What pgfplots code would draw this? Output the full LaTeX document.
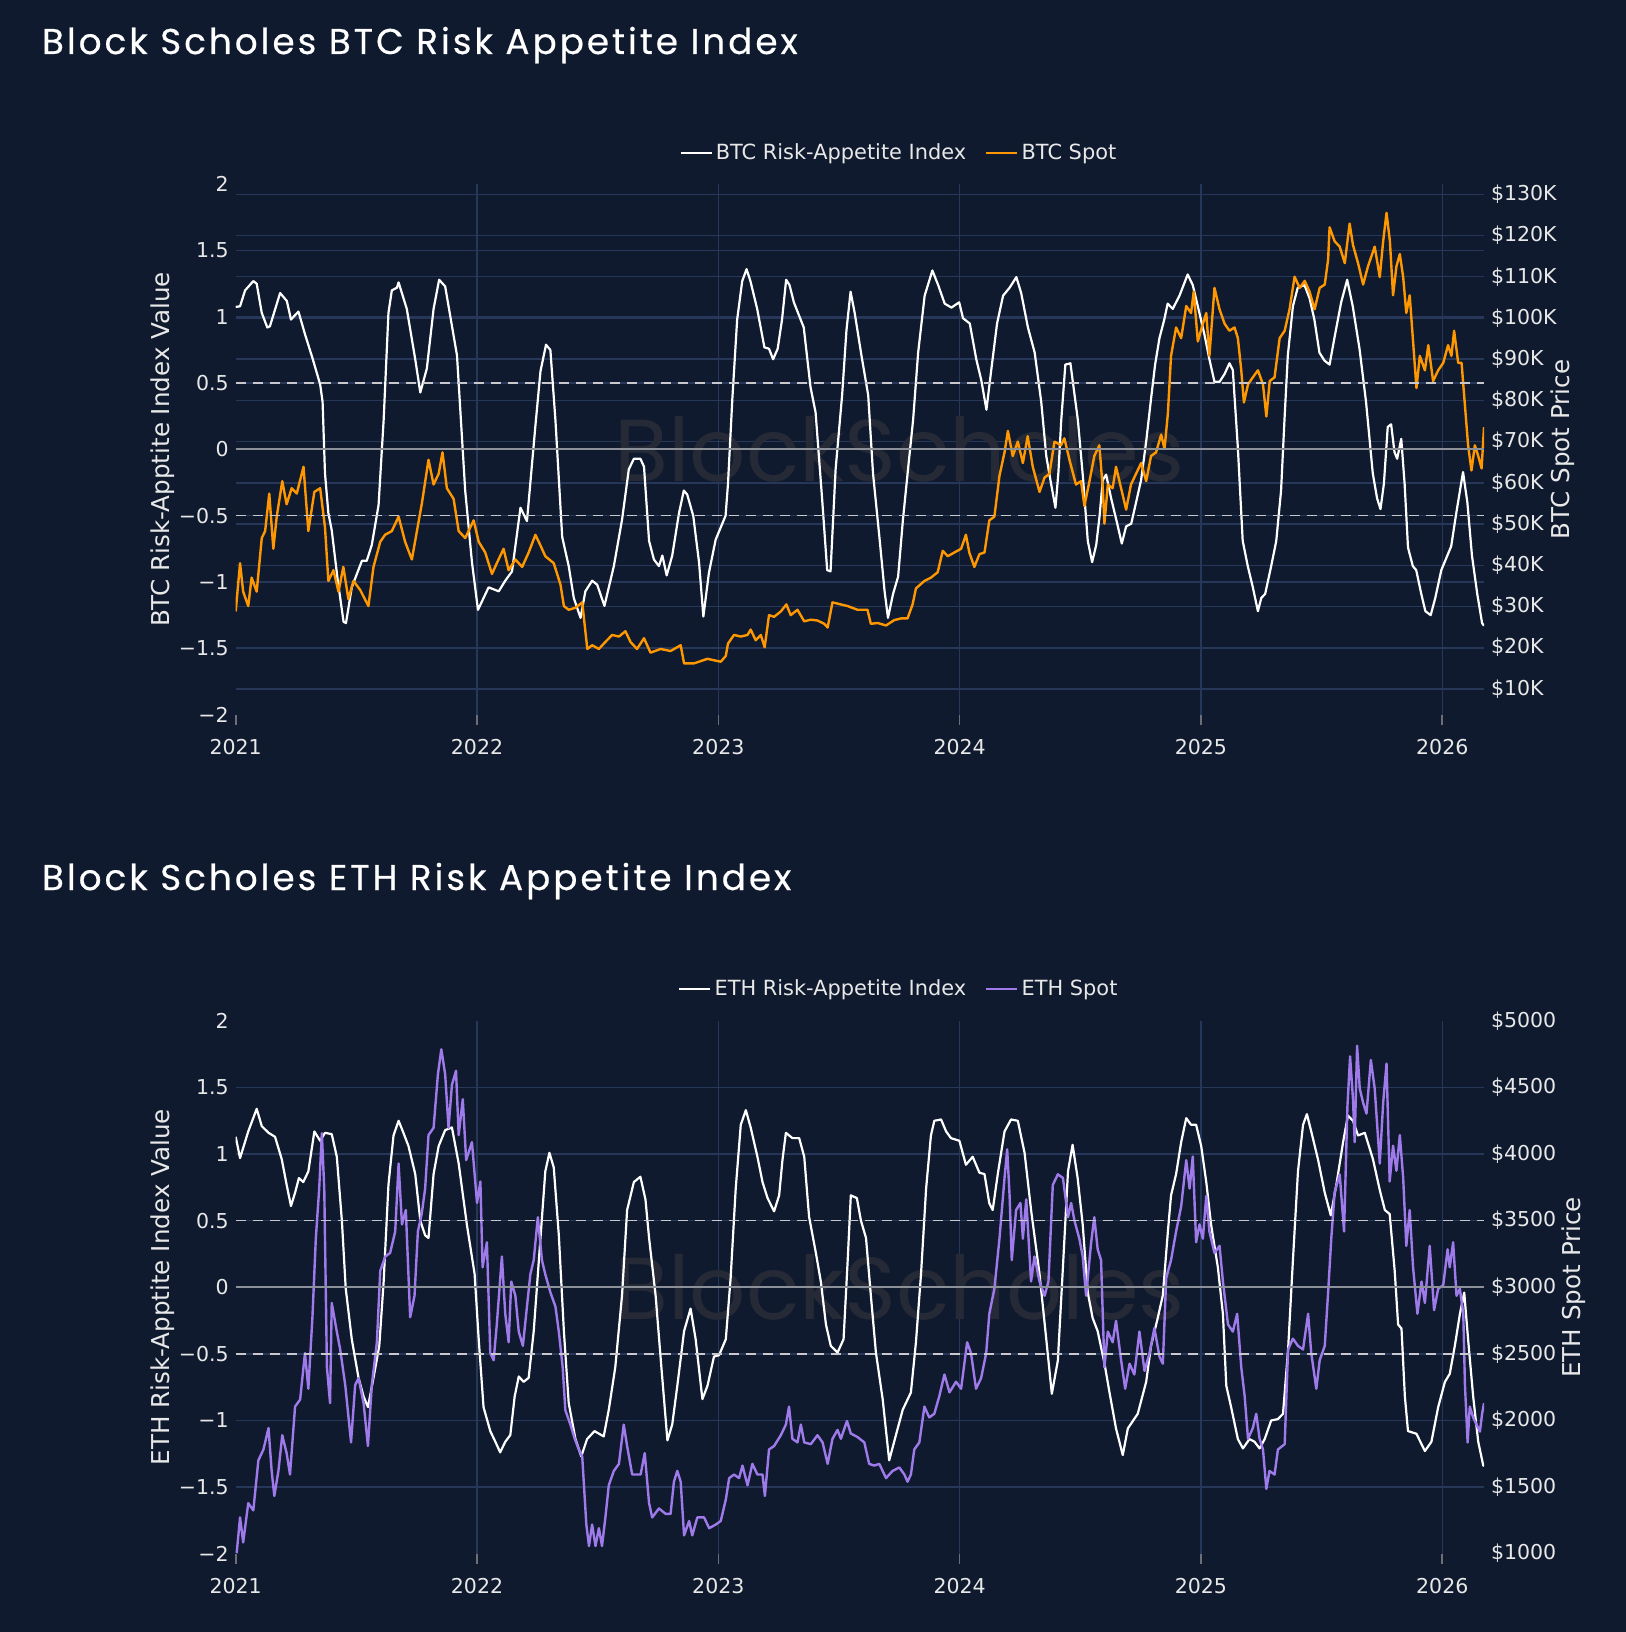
\documentclass[border=0pt]{standalone}
\usepackage{pgfplots}
\pgfplotsset{compat=1.18}
\usepackage{fontspec}
\setmainfont{DejaVu Sans}
\newfontfamily\poppins{Poppins}
\newfontfamily\titlefam[LetterSpace=8.3,FakeBold=0.4]{Poppins}
\definecolor{bgc}{RGB}{15,26,46}
\definecolor{gridc}{RGB}{38,55,90}
\definecolor{txt}{RGB}{232,232,232}
\definecolor{zeroc}{RGB}{140,144,152}
\definecolor{dashc}{RGB}{200,200,205}
\definecolor{tickc}{RGB}{110,110,120}
\definecolor{btcor}{RGB}{255,152,0}
\definecolor{ethpu}{RGB}{159,122,234}
\definecolor{wmc}{RGB}{38,42,54}
\newcommand\tickfont{\fontsize{10.25}{12}\selectfont}
\newcommand\labfont{\fontsize{12.3}{14}\selectfont}
\newcommand\legfont{\fontsize{10.45}{12}\selectfont}
\newcommand\titfont{\fontsize{17.9}{20}\titlefam}

\pgfplotsset{
  base/.style={
    scale only axis, width=624.15pt,
    xmin=2021, xmax=2026.173,
    axis line style={draw=none},
    tick label style={font=\tickfont, text=txt},
    /pgf/number format/assume math mode=true,
    ytick style={draw=none},
  },
  leftax/.style={
    base,
    ymin=-2, ymax=2,
    ytick={-2,-1.5,-1,-0.5,0,0.5,1,1.5,2},
    yticklabels={−2,−1.5,−1,−0.5,0,0.5,1,1.5,2},
    xtick={2021,2022,2023,2024,2025,2026},
    xticklabels={2021,2022,2023,2024,2025,2026},
    xtick pos=lower,
    xtick align=outside,
    major tick length=5pt,
    xtick style={draw=tickc, line width=0.8pt},
    xticklabel style={anchor=base, yshift=-15pt},
    extra x ticks={2022,2023,2024,2025,2026},
    extra x tick labels={},
    extra x tick style={xmajorgrids=true, xtick style={draw=none}},
    grid style={draw=gridc, line width=0.7pt},
    extra y tick labels={},
    extra y tick style={ymajorgrids=true},
    ylabel style={font=\labfont, text=txt, at={(axis description cs:-0.0586,0.5)}, anchor=center},
  },
  rightax/.style={
    base,
    axis x line=none, axis y line*=right,
    legend style={draw=none, fill=none, text=txt, font=\legfont, legend columns=2,
      inner sep=0pt, /tikz/every even column/.append style={column sep=8pt},
      nodes={inner sep=1.5pt}},
    legend image code/.code={\draw[#1] (0pt,0pt) -- (15.5pt,0pt);},
  },
}

\begin{document}
\begin{tikzpicture}[x=1pt,y=1pt]
\useasboundingbox (0,0) rectangle (813,-816);
\fill[bgc] (0,0) rectangle (813,-816);

\node[anchor=base west, text=white, font=\titfont, inner sep=0pt] at (20.8,-27) {Block Scholes BTC Risk Appetite Index};
\node[anchor=base west, text=white, font=\titfont, inner sep=0pt] at (20.8,-445) {Block Scholes ETH Risk Appetite Index};

% ---------------- BTC ----------------
\begin{axis}[leftax, at={(117.85pt,-357.3pt)}, anchor=south west, height=265.15pt,
  extra y ticks={-1.806,-1.5,-1.495,-1.1845,-1,-0.8736,-0.5627,-0.5,-0.2518,0,0.0591,0.37,0.5,0.6809,0.9918,1,1.3027,1.5,1.6136,1.9245},
  ylabel={BTC Risk-Apptite Index Value}]
\node[font=\fontsize{44}{48}\poppins, text=wmc] at (rel axis cs:0.5317,0.5) {BlockScholes};
\addplot[white, line width=1.1pt, line join=round] coordinates {
(2021.000,1.075)(2021.018,1.08)(2021.039,1.20)(2021.073,1.27)(2021.087,1.25)(2021.108,1.03)(2021.131,0.92)(2021.142,0.93)(2021.184,1.18)(2021.212,1.12)(2021.229,0.98)(2021.260,1.04)(2021.287,0.87)(2021.318,0.69)(2021.350,0.49)(2021.360,0.36)(2021.370,-0.18)(2021.384,-0.48)(2021.398,-0.61)(2021.423,-0.99)(2021.447,-1.30)(2021.457,-1.31)(2021.481,-1.04)(2021.523,-0.84)(2021.543,-0.84)(2021.564,-0.72)(2021.592,-0.42)(2021.613,0.22)(2021.633,1.03)(2021.647,1.20)(2021.668,1.22)(2021.675,1.26)(2021.709,1.06)(2021.744,0.68)(2021.765,0.43)(2021.792,0.61)(2021.820,1.06)(2021.843,1.28)(2021.868,1.23)(2021.917,0.71)(2021.951,-0.31)(2021.979,-0.85)(2022.004,-1.21)(2022.048,-1.04)(2022.090,-1.07)(2022.117,-0.99)(2022.145,-0.92)(2022.180,-0.44)(2022.207,-0.54)(2022.242,0.18)(2022.263,0.59)(2022.286,0.79)(2022.304,0.75)(2022.325,0.22)(2022.353,-0.66)(2022.380,-0.88)(2022.401,-1.12)(2022.429,-1.27)(2022.449,-1.07)(2022.477,-0.99)(2022.498,-1.02)(2022.528,-1.18)(2022.567,-0.88)(2022.601,-0.53)(2022.629,-0.15)(2022.650,-0.07)(2022.677,-0.07)
(2022.692,-0.13)(2022.713,-0.69)(2022.733,-0.83)(2022.754,-0.88)(2022.768,-0.80)(2022.786,-0.95)(2022.809,-0.80)(2022.837,-0.48)(2022.857,-0.31)(2022.871,-0.34)(2022.896,-0.50)(2022.920,-0.85)(2022.938,-1.26)(2022.961,-0.93)(2022.989,-0.68)(2023.030,-0.50)(2023.040,-0.26)(2023.058,0.38)(2023.078,0.98)(2023.099,1.27)(2023.117,1.36)(2023.133,1.27)(2023.161,1.06)(2023.191,0.77)(2023.210,0.76)(2023.227,0.68)(2023.246,0.76)(2023.264,0.98)(2023.281,1.28)(2023.295,1.24)(2023.313,1.11)(2023.354,0.92)(2023.382,0.47)(2023.403,0.28)(2023.430,-0.37)(2023.451,-0.91)(2023.465,-0.92)(2023.486,-0.15)(2023.513,0.41)(2023.531,0.90)(2023.548,1.19)(2023.565,1.03)(2023.593,0.71)(2023.621,0.41)(2023.641,-0.18)(2023.669,-0.69)(2023.689,-1.07)(2023.703,-1.27)(2023.724,-1.09)(2023.745,-0.96)(2023.765,-0.53)(2023.786,-0.15)(2023.807,0.22)(2023.828,0.73)(2023.855,1.16)(2023.887,1.35)(2023.911,1.24)(2023.938,1.10)(2023.966,1.07)(2023.998,1.11)(2024.014,0.99)(2024.042,0.95)(2024.069,0.68)(2024.090,0.52)(2024.111,0.30)(2024.131,0.60)(2024.155,0.95)(2024.180,1.16)(2024.207,1.22)(2024.235,1.30)(2024.255,1.18)(2024.283,0.92)(2024.311,0.73)(2024.338,0.36)(2024.359,-0.05)(2024.379,-0.26)(2024.397,-0.44)(2024.409,-0.18)(2024.421,0.22)(2024.438,0.64)(2024.459,0.65)(2024.490,0.22)(2024.511,-0.21)(2024.531,-0.69)(2024.549,-0.85)(2024.566,-0.72)(2024.580,-0.50)(2024.593,-0.23)(2024.607,-0.19)(2024.628,-0.37)(2024.653,-0.56)(2024.672,-0.71)(2024.690,-0.58)(2024.711,-0.56)(2024.731,-0.40)(2024.752,-0.23)(2024.773,0.06)(2024.793,0.38)(2024.810,0.64)(2024.828,0.84)(2024.848,0.98)(2024.862,1.10)(2024.883,1.06)(2024.911,1.16)(2024.945,1.32)(2024.966,1.24)(2024.987,1.08)(2025.014,0.87)(2025.035,0.68)(2025.056,0.51)(2025.077,0.51)(2025.098,0.57)(2025.118,0.65)(2025.132,0.60)(2025.153,0.01)(2025.173,-0.69)(2025.194,-0.88)(2025.215,-1.04)(2025.236,-1.22)(2025.250,-1.12)(2025.266,-1.09)(2025.291,-0.88)(2025.312,-0.69)(2025.332,-0.31)(2025.346,0.22)(2025.360,0.71)(2025.381,1.08)(2025.401,1.22)(2025.429,1.24)(2025.450,1.14)(2025.470,0.98)(2025.491,0.73)(2025.512,0.67)(2025.533,0.64)(2025.553,0.84)(2025.581,1.11)(2025.606,1.28)(2025.629,1.08)(2025.657,0.76)(2025.684,0.36)(2025.712,-0.18)(2025.730,-0.37)(2025.744,-0.45)(2025.758,-0.26)(2025.774,0.17)(2025.788,0.19)(2025.802,-0.02)(2025.813,-0.07)(2025.830,0.08)(2025.844,-0.26)(2025.858,-0.74)(2025.878,-0.88)(2025.892,-0.91)(2025.913,-1.09)(2025.930,-1.22)(2025.952,-1.25)(2025.971,-1.12)(2025.996,-0.91)(2026.037,-0.73)(2026.058,-0.48)(2026.086,-0.17)(2026.104,-0.40)(2026.123,-0.80)(2026.145,-1.09)(2026.165,-1.31)(2026.173,-1.33)
};
\end{axis}

\begin{axis}[rightax, at={(117.85pt,-357.3pt)}, anchor=south west, height=265.15pt,
  ymin=3.77, ymax=132.43,
  ytick={10,20,30,40,50,60,70,80,90,100,110,120,130},
  yticklabels={\$10K,\$20K,\$30K,\$40K,\$50K,\$60K,\$70K,\$80K,\$90K,\$100K,\$110K,\$120K,\$130K},
  ylabel={BTC Spot Price},
  ylabel style={font=\labfont, text=txt, at={(axis description cs:1.0629,0.5)}, anchor=center},
  legend style={at={(axis description cs:0.5317,1.059)}, anchor=center}]
\addlegendimage{white, line width=1.1pt}
\addlegendentry{BTC Risk-Appetite Index}
\addplot[btcor, line width=1.2pt, line join=round] coordinates {
(2021.000,28.8)(2021.018,40.5)(2021.031,33.6)(2021.052,30.1)(2021.066,37.0)(2021.087,33.6)(2021.108,46.6)(2021.122,48.3)(2021.139,57.4)(2021.156,44.0)(2021.170,51.8)(2021.193,60.4)(2021.211,54.8)(2021.232,58.7)(2021.253,57.4)(2021.281,63.9)(2021.301,48.3)(2021.326,57.8)(2021.350,58.7)(2021.370,49.2)(2021.384,36.2)(2021.405,38.8)(2021.426,33.6)(2021.446,39.6)(2021.467,31.8)(2021.488,36.2)(2021.516,34.0)(2021.550,30.1)(2021.571,39.6)(2021.599,45.7)(2021.619,47.4)(2021.647,48.3)(2021.675,51.8)(2021.702,45.7)(2021.730,41.4)(2021.751,48.3)(2021.772,55.2)(2021.799,65.6)(2021.820,59.6)(2021.841,62.2)(2021.857,67.4)(2021.875,58.7)(2021.903,56.1)(2021.924,48.3)(2021.951,46.6)(2021.986,50.9)(2022.007,45.7)(2022.034,43.1)(2022.062,37.9)(2022.082,40.5)(2022.110,44.0)(2022.131,38.8)(2022.159,41.4)(2022.187,39.6)(2022.214,43.1)(2022.242,47.4)(2022.263,44.8)(2022.283,42.2)(2022.318,40.5)(2022.346,35.3)(2022.360,30.1)(2022.380,29.2)(2022.408,29.7)(2022.436,31.0)(2022.457,19.7)(2022.477,20.6)(2022.505,19.7)(2022.532,21.4)(2022.560,23.1)(2022.588,22.7)(2022.615,24.0)(2022.636,21.4)(2022.663,19.7)(2022.692,22.3)(2022.719,18.8)(2022.761,19.7)(2022.802,19.2)(2022.844,20.6)(2022.858,16.2)(2022.899,16.2)(2022.955,17.3)(2023.010,16.6)(2023.031,18.0)(2023.040,21.0)(2023.065,23.1)(2023.093,22.7)(2023.121,23.1)(2023.134,24.4)(2023.155,21.8)(2023.176,23.1)(2023.192,20.1)(2023.210,27.9)(2023.231,27.5)(2023.259,28.8)(2023.282,30.5)(2023.300,27.9)(2023.328,29.2)(2023.356,26.4)(2023.383,26.8)(2023.411,26.6)(2023.439,25.8)(2023.453,24.9)(2023.473,31.0)(2023.508,30.5)(2023.536,30.1)(2023.577,29.2)(2023.618,29.2)(2023.632,25.8)(2023.660,26.0)(2023.695,25.4)(2023.729,26.7)(2023.757,27.1)(2023.784,27.1)(2023.805,30.5)(2023.819,34.4)(2023.854,36.2)(2023.881,37.0)(2023.909,38.3)(2023.930,43.5)(2023.951,42.2)(2023.978,43.1)(2024.006,44.0)(2024.026,47.4)(2024.040,43.1)(2024.061,39.6)(2024.082,42.7)(2024.103,43.1)(2024.123,50.9)(2024.144,51.8)(2024.165,61.7)(2024.186,67.4)(2024.200,72.6)(2024.220,66.5)(2024.241,70.0)(2024.262,64.8)(2024.282,71.3)(2024.303,63.9)(2024.331,57.8)(2024.352,61.3)(2024.372,62.2)(2024.393,70.0)(2024.420,69.1)(2024.434,70.8)(2024.455,65.6)(2024.482,59.6)(2024.503,60.4)(2024.517,54.4)(2024.538,60.4)(2024.558,66.5)(2024.579,69.1)(2024.593,58.7)(2024.600,50.1)(2024.614,59.6)(2024.634,58.7)(2024.648,63.9)(2024.669,58.7)(2024.690,53.5)(2024.710,59.6)(2024.731,62.2)(2024.752,64.8)(2024.773,60.4)(2024.793,66.5)(2024.814,67.4)(2024.835,71.7)(2024.849,68.2)(2024.863,76.9)(2024.876,90.8)(2024.897,97.7)(2024.918,95.1)(2024.939,102.9)(2024.959,101.2)(2024.970,106.4)(2024.987,94.3)(2025.008,98.6)(2025.022,101.2)(2025.035,90.8)(2025.056,107.3)(2025.077,102.1)(2025.098,98.6)(2025.118,96.9)(2025.139,97.7)(2025.153,95.1)(2025.167,87.3)(2025.178,79.5)(2025.195,83.9)(2025.215,85.6)(2025.236,87.3)(2025.257,83.9)(2025.271,76.1)(2025.285,84.7)(2025.305,85.6)(2025.326,95.1)(2025.347,96.9)(2025.367,102.1)(2025.388,110.0)(2025.409,107.3)(2025.430,109.0)(2025.450,106.4)(2025.471,102.1)(2025.492,107.3)(2025.513,108.1)(2025.527,114.2)(2025.533,122.0)(2025.554,118.6)(2025.575,117.3)(2025.596,113.3)(2025.616,122.9)(2025.630,117.7)(2025.651,113.3)(2025.672,108.1)(2025.692,112.5)(2025.720,117.3)(2025.741,109.9)(2025.755,118.6)(2025.769,125.5)(2025.783,118.6)(2025.796,105.5)(2025.810,112.5)(2025.824,115.5)(2025.838,109.9)(2025.851,101.2)(2025.865,105.5)(2025.879,94.3)(2025.893,83.0)(2025.907,90.8)(2025.928,87.3)(2025.942,93.4)(2025.962,84.7)(2025.983,87.3)(2026.004,89.1)(2026.024,93.4)(2026.038,90.8)(2026.049,96.9)(2026.066,89.1)(2026.080,89.1)(2026.094,78.7)(2026.107,69.1)(2026.121,63.0)(2026.135,69.1)(2026.149,66.5)(2026.163,63.5)(2026.173,73.5)
};
\addlegendentry{BTC Spot}
\draw[zeroc, line width=1pt] (rel axis cs:0,0.5) -- (rel axis cs:1,0.5);
\draw[dashc, line width=0.7pt, dash pattern=on 5pt off 3.5pt] (rel axis cs:0,0.625) -- (rel axis cs:1,0.625);
\draw[dashc, line width=0.7pt, dash pattern=on 5pt off 3.5pt] (rel axis cs:0,0.375) -- (rel axis cs:1,0.375);
\end{axis}

% ---------------- ETH ----------------
\begin{axis}[leftax, at={(117.85pt,-776.8pt)}, anchor=south west, height=266.35pt,
  extra y ticks={-1.5,-1,-0.5,0,0.5,1,1.5},
  ylabel={ETH Risk-Apptite Index Value}]
\node[font=\fontsize{44}{48}\poppins, text=wmc] at (rel axis cs:0.5317,0.5) {BlockScholes};
\addplot[white, line width=1.1pt, line join=round] coordinates {
(2021.000,1.13)(2021.018,0.97)(2021.052,1.17)(2021.087,1.34)(2021.108,1.21)(2021.136,1.16)(2021.163,1.13)(2021.191,0.96)(2021.211,0.77)(2021.229,0.61)(2021.246,0.71)(2021.262,0.82)(2021.280,0.79)(2021.301,0.87)(2021.326,1.17)(2021.350,1.10)(2021.370,1.16)(2021.398,1.15)(2021.419,0.98)(2021.440,0.50)(2021.456,-0.01)(2021.481,-0.39)(2021.509,-0.68)(2021.530,-0.82)(2021.548,-0.90)(2021.571,-0.68)(2021.595,-0.44)(2021.613,0.04)(2021.633,0.77)(2021.654,1.14)(2021.675,1.25)(2021.695,1.16)(2021.716,1.06)(2021.744,0.85)(2021.765,0.50)(2021.785,0.39)(2021.799,0.37)(2021.820,0.85)(2021.841,1.06)(2021.868,1.18)(2021.896,1.20)(2021.924,0.93)(2021.958,0.47)(2021.990,0.10)(2022.007,-0.39)(2022.027,-0.90)(2022.055,-1.08)(2022.076,-1.16)(2022.096,-1.24)(2022.117,-1.16)(2022.138,-1.11)(2022.156,-0.82)(2022.173,-0.67)(2022.193,-0.71)(2022.214,-0.68)(2022.235,-0.33)(2022.263,0.37)(2022.283,0.87)(2022.300,1.01)(2022.318,0.90)(2022.339,0.39)(2022.360,-0.33)(2022.380,-0.87)(2022.408,-1.14)(2022.432,-1.27)(2022.456,-1.14)(2022.487,-1.08)(2022.525,-1.12)(2022.546,-0.92)(2022.573,-0.60)(2022.601,-0.06)(2022.622,0.58)(2022.650,0.79)(2022.677,0.83)(2022.698,0.66)(2022.713,0.37)(2022.740,-0.06)(2022.764,-0.60)(2022.789,-1.15)(2022.809,-1.03)(2022.830,-0.74)(2022.858,-0.33)(2022.885,-0.16)(2022.906,-0.39)(2022.934,-0.84)(2022.955,-0.74)(2022.982,-0.52)(2023.003,-0.51)(2023.031,-0.39)(2023.051,0.07)(2023.072,0.74)(2023.093,1.22)(2023.114,1.33)(2023.134,1.20)(2023.162,0.98)(2023.183,0.79)(2023.204,0.67)(2023.231,0.57)(2023.252,0.69)(2023.266,0.96)(2023.280,1.16)(2023.307,1.12)(2023.335,1.12)(2023.356,0.98)(2023.376,0.53)(2023.404,0.26)(2023.425,0.04)(2023.446,-0.28)(2023.466,-0.44)(2023.494,-0.49)(2023.519,-0.39)(2023.536,0.20)(2023.549,0.69)(2023.574,0.67)(2023.591,0.50)(2023.612,0.37)(2023.632,-0.06)(2023.653,-0.49)(2023.681,-0.84)(2023.708,-1.30)(2023.736,-1.11)(2023.764,-0.92)(2023.798,-0.79)(2023.819,-0.41)(2023.840,0.10)(2023.861,0.74)(2023.881,1.14)(2023.895,1.25)(2023.923,1.26)(2023.944,1.17)(2023.964,1.12)(2023.999,1.10)(2024.026,0.92)(2024.054,0.98)(2024.082,0.86)(2024.103,0.85)(2024.123,0.63)(2024.137,0.58)(2024.158,0.85)(2024.186,1.17)(2024.213,1.26)(2024.241,1.25)(2024.269,1.01)(2024.296,0.58)(2024.331,0.10)(2024.359,-0.39)(2024.382,-0.80)(2024.407,-0.55)(2024.428,0.15)(2024.449,0.87)(2024.468,1.07)(2024.489,0.82)(2024.510,0.47)(2024.531,-0.04)(2024.551,-0.23)(2024.572,-0.33)(2024.600,-0.57)(2024.621,-0.79)(2024.648,-1.06)(2024.676,-1.26)(2024.697,-1.06)(2024.738,-0.95)(2024.773,-0.71)(2024.793,-0.44)(2024.821,-0.23)(2024.842,-0.06)(2024.863,0.42)(2024.876,0.69)(2024.897,0.85)(2024.918,1.09)(2024.939,1.27)(2024.959,1.22)(2024.980,1.22)(2025.001,1.06)(2025.022,0.79)(2025.042,0.47)(2025.070,0.15)(2025.091,-0.20)(2025.105,-0.74)(2025.125,-0.90)(2025.153,-1.14)(2025.174,-1.21)(2025.201,-1.14)(2025.222,-1.16)(2025.243,-1.21)(2025.264,-1.14)(2025.291,-1.00)(2025.319,-0.99)(2025.340,-0.95)(2025.361,-0.47)(2025.381,0.20)(2025.402,0.87)(2025.423,1.22)(2025.439,1.30)(2025.457,1.17)(2025.485,0.96)(2025.513,0.71)(2025.538,0.54)(2025.561,0.77)(2025.589,1.09)(2025.609,1.29)(2025.630,1.25)(2025.651,1.14)(2025.679,1.16)(2025.713,0.96)(2025.741,0.73)(2025.762,0.58)(2025.782,0.55)(2025.803,0.12)(2025.817,-0.28)(2025.831,-0.31)(2025.845,-0.82)(2025.858,-1.08)(2025.893,-1.10)(2025.928,-1.23)(2025.955,-1.16)(2025.983,-0.90)(2026.011,-0.71)(2026.031,-0.65)(2026.052,-0.44)(2026.073,-0.20)(2026.091,-0.04)(2026.107,-0.39)(2026.128,-0.82)(2026.149,-1.16)(2026.170,-1.34)(2026.173,-1.33)
};
\end{axis}

\begin{axis}[rightax, at={(117.85pt,-776.8pt)}, anchor=south west, height=266.35pt,
  ymin=1000, ymax=5000,
  ytick={1000,1500,2000,2500,3000,3500,4000,4500,5000},
  yticklabels={\$1000,\$1500,\$2000,\$2500,\$3000,\$3500,\$4000,\$4500,\$5000},
  ylabel={ETH Spot Price},
  ylabel style={font=\labfont, text=txt, at={(axis description cs:1.0721,0.5)}, anchor=center},
  legend style={at={(axis description cs:0.5317,1.060)}, anchor=center}]
\addlegendimage{white, line width=1.1pt}
\addlegendentry{ETH Risk-Appetite Index}
\addplot[ethpu, line width=1.2pt, line join=round] coordinates {
(2021.004,1003)(2021.018,1272)(2021.031,1084)(2021.052,1379)(2021.073,1325)(2021.094,1701)(2021.115,1782)(2021.136,1943)(2021.149,1621)(2021.160,1433)(2021.177,1621)(2021.193,1889)(2021.211,1755)(2021.225,1594)(2021.246,2104)(2021.267,2157)(2021.287,2506)(2021.301,2238)(2021.318,2775)(2021.332,3365)(2021.346,3741)(2021.357,4157)(2021.367,3741)(2021.378,2399)(2021.391,2130)(2021.398,2882)(2021.419,2667)(2021.433,2533)(2021.454,2265)(2021.478,1835)(2021.495,2265)(2021.509,2318)(2021.530,2130)(2021.548,1808)(2021.564,2265)(2021.585,2587)(2021.599,3123)(2021.620,3231)(2021.640,3258)(2021.661,3419)(2021.675,3929)(2021.689,3472)(2021.705,3580)(2021.723,2775)(2021.741,2936)(2021.755,3419)(2021.771,3553)(2021.785,3741)(2021.799,4143)(2021.820,4197)(2021.838,4600)(2021.852,4787)(2021.868,4600)(2021.882,4197)(2021.896,4519)(2021.913,4626)(2021.924,4143)(2021.941,4412)(2021.955,3955)(2021.979,4090)(2022.000,3633)(2022.014,3794)(2022.023,3150)(2022.041,3338)(2022.055,2506)(2022.069,2452)(2022.082,2721)(2022.103,3231)(2022.117,2801)(2022.131,2587)(2022.142,3043)(2022.159,2936)(2022.173,2667)(2022.190,2560)(2022.207,2855)(2022.221,3097)(2022.235,3204)(2022.252,3526)(2022.269,3204)(2022.283,3097)(2022.304,2962)(2022.325,2855)(2022.339,2667)(2022.355,2399)(2022.366,2077)(2022.387,1969)(2022.405,1862)(2022.422,1782)(2022.436,1728)(2022.453,1218)(2022.464,1057)(2022.477,1218)(2022.491,1057)(2022.505,1191)(2022.518,1057)(2022.532,1272)(2022.546,1513)(2022.567,1621)(2022.588,1674)(2022.608,1969)(2022.622,1808)(2022.643,1594)(2022.663,1594)(2022.678,1594)(2022.695,1755)(2022.713,1379)(2022.726,1272)(2022.754,1339)(2022.782,1298)(2022.802,1298)(2022.816,1540)(2022.830,1621)(2022.844,1540)(2022.858,1137)(2022.879,1245)(2022.892,1137)(2022.913,1272)(2022.941,1272)(2022.962,1191)(2022.989,1218)(2023.010,1245)(2023.031,1406)(2023.045,1567)(2023.065,1594)(2023.086,1567)(2023.100,1661)(2023.121,1513)(2023.141,1674)(2023.162,1594)(2023.183,1594)(2023.193,1433)(2023.210,1782)(2023.231,1808)(2023.259,1889)(2023.280,1969)(2023.293,2104)(2023.307,1862)(2023.328,1835)(2023.342,1969)(2023.356,1835)(2023.383,1822)(2023.411,1889)(2023.432,1835)(2023.453,1674)(2023.473,1862)(2023.494,1929)(2023.508,1862)(2023.533,1996)(2023.549,1902)(2023.577,1875)(2023.605,1835)(2023.625,1674)(2023.646,1661)(2023.667,1674)(2023.695,1567)(2023.722,1621)(2023.750,1647)(2023.771,1594)(2023.784,1540)(2023.798,1594)(2023.812,1782)(2023.833,1835)(2023.854,2104)(2023.874,2023)(2023.895,2050)(2023.916,2184)(2023.937,2345)(2023.958,2211)(2023.985,2291)(2024.006,2238)(2024.031,2587)(2024.047,2506)(2024.068,2238)(2024.089,2318)(2024.110,2506)(2024.123,2801)(2024.144,2989)(2024.165,3365)(2024.186,3821)(2024.197,4036)(2024.207,3687)(2024.216,3204)(2024.234,3580)(2024.252,3633)(2024.262,3365)(2024.276,3660)(2024.296,3043)(2024.310,3231)(2024.331,3043)(2024.352,2936)(2024.368,3043)(2024.386,3768)(2024.407,3848)(2024.428,3821)(2024.449,3526)(2024.462,3633)(2024.476,3499)(2024.496,3365)(2024.510,3231)(2024.524,2936)(2024.545,3338)(2024.558,3526)(2024.572,3285)(2024.586,3204)(2024.600,2399)(2024.614,2667)(2024.634,2587)(2024.648,2748)(2024.669,2453)(2024.686,2238)(2024.704,2426)(2024.724,2345)(2024.745,2667)(2024.766,2372)(2024.787,2506)(2024.807,2694)(2024.828,2479)(2024.842,2426)(2024.856,3070)(2024.876,3204)(2024.897,3419)(2024.918,3607)(2024.939,3955)(2024.953,3741)(2024.966,3982)(2024.980,3338)(2024.994,3472)(2025.008,3365)(2025.022,3687)(2025.035,3419)(2025.056,3258)(2025.077,3311)(2025.091,3043)(2025.112,2721)(2025.132,2667)(2025.150,2801)(2025.167,2399)(2025.181,2184)(2025.195,1862)(2025.215,1943)(2025.229,2050)(2025.243,1862)(2025.257,1782)(2025.271,1486)(2025.284,1621)(2025.305,1594)(2025.319,1782)(2025.347,1822)(2025.361,2533)(2025.381,2614)(2025.402,2560)(2025.423,2533)(2025.444,2801)(2025.457,2506)(2025.478,2238)(2025.492,2452)(2025.513,2560)(2025.527,2962)(2025.540,3365)(2025.554,3714)(2025.575,3848)(2025.593,3419)(2025.607,4358)(2025.618,4734)(2025.630,4412)(2025.637,4090)(2025.647,4814)(2025.658,4492)(2025.672,4385)(2025.686,4304)(2025.704,4707)(2025.720,4492)(2025.741,3929)(2025.755,4385)(2025.769,4680)(2025.782,3794)(2025.796,4063)(2025.810,3875)(2025.824,4143)(2025.838,3821)(2025.851,3311)(2025.865,3580)(2025.879,3150)(2025.897,2801)(2025.914,3043)(2025.928,2882)(2025.948,3311)(2025.966,2828)(2025.983,2989)(2026.004,3016)(2026.022,3285)(2026.031,3150)(2026.045,3338)(2026.059,2936)(2026.073,2989)(2026.087,2801)(2026.094,2265)(2026.105,1835)(2026.114,2104)(2026.128,2023)(2026.142,1969)(2026.156,1916)(2026.165,2050)(2026.173,2130)
};
\addlegendentry{ETH Spot}
\draw[zeroc, line width=1pt] (rel axis cs:0,0.5) -- (rel axis cs:1,0.5);
\draw[dashc, line width=0.7pt, dash pattern=on 5pt off 3.5pt] (rel axis cs:0,0.625) -- (rel axis cs:1,0.625);
\draw[dashc, line width=0.7pt, dash pattern=on 5pt off 3.5pt] (rel axis cs:0,0.375) -- (rel axis cs:1,0.375);
\end{axis}
\end{tikzpicture}
\end{document}
